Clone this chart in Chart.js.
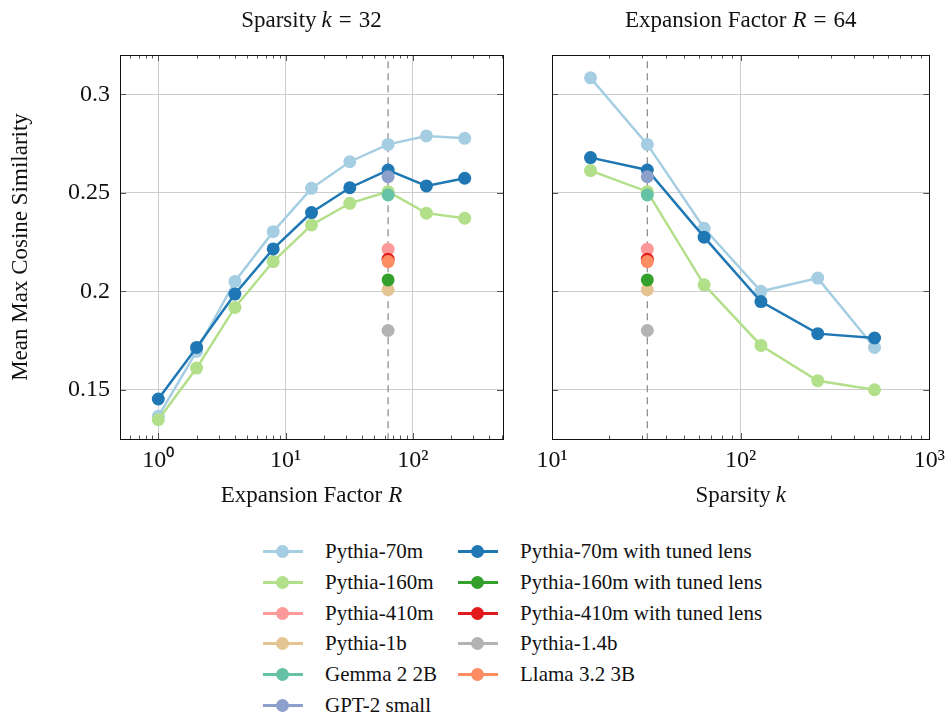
<!DOCTYPE html>
<html>
<head>
<meta charset="utf-8">
<script src="https://cdn.jsdelivr.net/npm/chart.js@4.4.1/dist/chart.umd.min.js"></script>
<style>
  body { margin: 0; background: #fff; }
  #wrap { position: relative; width: 952px; height: 715px; font-family: "Liberation Serif", serif; }
  #left { position: absolute; left: 0; top: 0; }
  #right { position: absolute; left: 520px; top: 0; }
  .entry { position: absolute; height: 24px; font-size: 21px; color: #111; white-space: nowrap; }
  .entry .ln { position: absolute; left: 0; top: 11px; width: 40px; height: 3px; }
  .entry .dot { position: absolute; left: 13px; top: 6px; width: 13px; height: 13px; border-radius: 50%; }
  .entry .lbl { position: absolute; left: 62px; top: 0; line-height: 24px; }
</style>
</head>
<body>
<div id="wrap">
  <canvas id="left" width="520" height="520"></canvas>
  <canvas id="right" width="432" height="520"></canvas>
  <div id="legend"></div>
</div>
<script>
// ---- data ----
const R_VALUES = [1, 2, 4, 8, 16, 32, 64, 128, 256];
const K_VALUES = [16, 32, 64, 128, 256, 512];

// left panel: sparsity k = 32, varying R
const P70M_BY_R = [0.1365, 0.1695, 0.205, 0.2303, 0.2523, 0.2658, 0.2746, 0.2789, 0.2777];
const P160M_BY_R = [0.1348, 0.161, 0.1918, 0.2151, 0.2337, 0.2447, 0.2506, 0.2397, 0.2371];
const P70M_TUNED_BY_R = [0.1453, 0.1715, 0.1986, 0.2215, 0.24, 0.2526, 0.2616, 0.2535, 0.2574];

// right panel: R = 64, varying k
const P70M_BY_K = [0.3084, 0.2746, 0.232, 0.2, 0.2067, 0.1715];
const P160M_BY_K = [0.2613, 0.2506, 0.2033, 0.1725, 0.1546, 0.15];
const P70M_TUNED_BY_K = [0.2679, 0.2616, 0.2275, 0.1948, 0.1785, 0.1763];

// models with a single run (R = 64, k = 32)
const SINGLE_MODELS = ["Pythia-410m", "Pythia-1b", "Gemma 2 2B", "GPT-2 small",
  "Pythia-160m with tuned lens", "Pythia-410m with tuned lens", "Pythia-1.4b", "Llama 3.2 3B"];
const SINGLE_VALUES = [0.2214, 0.2008, 0.2489, 0.2582, 0.2058, 0.2163, 0.1801, 0.2151];

const FIXED_R = 64;
const FIXED_K = 32;
const Y_TICKS = [0.15, 0.2, 0.25, 0.3];

const LEGEND_ORDER = ["Pythia-70m", "Pythia-160m", "Pythia-410m", "Pythia-1b", "Gemma 2 2B", "GPT-2 small",
  "Pythia-70m with tuned lens", "Pythia-160m with tuned lens", "Pythia-410m with tuned lens", "Pythia-1.4b", "Llama 3.2 3B"];

// ---- styles ----
const COLORS = {
  "Pythia-70m": "#a6cee3",
  "Pythia-70m with tuned lens": "#1f78b4",
  "Pythia-160m": "#b2df8a",
  "Pythia-160m with tuned lens": "#33a02c",
  "Pythia-410m": "#fb9a99",
  "Pythia-410m with tuned lens": "#e31a1c",
  "Pythia-1b": "#e5c494",
  "Pythia-1.4b": "#b3b3b3",
  "Gemma 2 2B": "#66c2a5",
  "GPT-2 small": "#8da0cb",
  "Llama 3.2 3B": "#fc8d62"
};
const FONT = "Liberation Serif";
const TEXT_SIZE = 23;

function isDecade(v) {
  const l = Math.log10(v);
  return Math.abs(l - Math.round(l)) < 1e-9;
}
const SUP = { "0": "\u2070", "1": "\u00b9", "2": "\u00b2", "3": "\u00b3" };

function lineSet(name, xs, ys, order) {
  return {
    label: name,
    data: xs.map((x, i) => ({ x: x, y: ys[i] })),
    borderColor: COLORS[name],
    backgroundColor: COLORS[name],
    borderWidth: 2.5,
    pointRadius: 6.5,
    pointHoverRadius: 6.5,
    pointBorderWidth: 0,
    order: order
  };
}

function buildDatasets(xs, s70, s160, s70t, fixedX) {
  const sets = [
    {
      label: "ref",
      data: [{ x: fixedX, y: 0.1 }, { x: fixedX, y: 0.35 }],
      borderColor: "#888",
      borderWidth: 1.2,
      borderDash: [7, 5],
      pointRadius: 0,
      order: 30
    },
    lineSet("Pythia-70m", xs, s70, 22),
    lineSet("Pythia-160m", xs, s160, 21),
    lineSet("Pythia-70m with tuned lens", xs, s70t, 20)
  ];
  SINGLE_MODELS.forEach((name, i) => {
    sets.push({
      label: name,
      data: [{ x: fixedX, y: SINGLE_VALUES[i] }],
      borderColor: COLORS[name],
      backgroundColor: COLORS[name],
      pointRadius: 6.5,
      pointHoverRadius: 6.5,
      pointBorderWidth: 0,
      showLine: false,
      order: 10 - i
    });
  });
  return sets;
}

// text pieces: [string, italic] or a number = extra gap in px
function drawMixed(ctx, parts, cx, cy, size) {
  const fontOf = p => (p[1] ? "italic " : "") + size + "px '" + FONT + "'";
  let total = 0;
  const widths = parts.map(p => {
    if (typeof p === "number") { total += p; return p; }
    ctx.font = fontOf(p);
    const w = ctx.measureText(p[0]).width;
    total += w;
    return w;
  });
  let x = cx - total / 2;
  ctx.textAlign = "left";
  ctx.textBaseline = "middle";
  ctx.fillStyle = "#111";
  parts.forEach((p, i) => {
    if (typeof p !== "number") {
      ctx.font = fontOf(p);
      ctx.fillText(p[0], x, cy);
    }
    x += widths[i];
  });
}

const decorPlugin = {
  id: "decor",
  afterDraw(chart) {
    const ctx = chart.ctx;
    const a = chart.chartArea;
    const xs = chart.scales.x;
    const ys = chart.scales.y;
    const o = chart.options.plugins.decor;
    ctx.save();
    // inward tick marks
    ctx.strokeStyle = "#555";
    ctx.lineWidth = 1;
    ctx.beginPath();
    const d0 = Math.floor(Math.log10(xs.min)), d1 = Math.ceil(Math.log10(xs.max));
    for (let d = d0; d <= d1; d++) {
      for (let m = 1; m <= 9; m++) {
        const v = m * Math.pow(10, d);
        if (v < xs.min || v > xs.max) continue;
        const px = Math.round(xs.getPixelForValue(v)) + 0.5;
        const len = m === 1 ? 6 : 3.5;
        ctx.moveTo(px, a.bottom); ctx.lineTo(px, a.bottom - len);
        ctx.moveTo(px, a.top); ctx.lineTo(px, a.top + len);
      }
    }
    Y_TICKS.forEach(v => {
      const py = Math.round(ys.getPixelForValue(v)) + 0.5;
      ctx.moveTo(a.left, py); ctx.lineTo(a.left + 6, py);
      ctx.moveTo(a.right, py); ctx.lineTo(a.right - 6, py);
    });
    ctx.stroke();
    // frame
    ctx.strokeStyle = "#111";
    ctx.lineWidth = 1;
    ctx.strokeRect(Math.round(a.left) + 0.5, Math.round(a.top) + 0.5,
      Math.round(a.right - a.left), Math.round(a.bottom - a.top));
    // texts
    const cx = (a.left + a.right) / 2;
    drawMixed(ctx, o.title, cx, 21, TEXT_SIZE);
    drawMixed(ctx, o.xTitle, cx, 496, TEXT_SIZE);
    if (o.yTitle) {
      ctx.translate(21, (a.top + a.bottom) / 2);
      ctx.rotate(-Math.PI / 2);
      drawMixed(ctx, [[o.yTitle, false]], 0, 0, TEXT_SIZE);
    }
    ctx.restore();
  }
};

function makeChart(canvasId, datasets, xMin, xMax, yAxisWidth, rightPad, showYLabels, decor) {
  return new Chart(document.getElementById(canvasId), {
    type: "line",
    data: { datasets: datasets },
    plugins: [decorPlugin],
    options: {
      responsive: false,
      animation: false,
      devicePixelRatio: 1,
      layout: { padding: { top: 55, right: rightPad, left: 0, bottom: 0 } },
      plugins: {
        legend: { display: false },
        tooltip: { enabled: false },
        decor: decor
      },
      scales: {
        x: {
          type: "logarithmic",
          min: xMin,
          max: xMax,
          afterFit(s) { s.height = 81; },
          border: { display: false },
          grid: {
            drawTicks: false,
            color: c => (c.tick && isDecade(c.tick.value)) ? "#cccccc" : "rgba(0,0,0,0)",
            lineWidth: 1
          },
          ticks: {
            autoSkip: false,
            maxRotation: 0,
            padding: 7,
            color: "#111",
            font: { family: FONT, size: 24 },
            callback: v => isDecade(v) ? "10" + SUP[String(Math.round(Math.log10(v)))] : ""
          }
        },
        y: {
          min: 0.125,
          max: 0.32,
          afterBuildTicks(s) { s.ticks = Y_TICKS.map(v => ({ value: v })); },
          afterFit(s) { s.width = yAxisWidth; },
          border: { display: false },
          grid: { drawTicks: false, color: "#cccccc", lineWidth: 1 },
          ticks: {
            display: showYLabels,
            padding: 10,
            color: "#111",
            font: { family: FONT, size: 24 },
            callback: v => String(v)
          }
        }
      }
    }
  });
}

makeChart("left", buildDatasets(R_VALUES, P70M_BY_R, P160M_BY_R, P70M_TUNED_BY_R, FIXED_R),
  0.5, 512, 120, 17, true,
  { title: [["Sparsity", false], 5, ["k", true], 7, ["=", false], 7, ["32", false]],
    xTitle: [["Expansion Factor", false], 6, ["R", true]],
    yTitle: "Mean Max Cosine Similarity" });

makeChart("right", buildDatasets(K_VALUES, P70M_BY_K, P160M_BY_K, P70M_TUNED_BY_K, FIXED_K),
  10, 1000, 32, 19, false,
  { title: [["Expansion Factor", false], 6, ["R", true], 7, ["=", false], 7, ["64", false]],
    xTitle: [["Sparsity", false], 5, ["k", true]],
    yTitle: null });

// ---- legend ----
const legend = document.getElementById("legend");
LEGEND_ORDER.forEach((name, i) => {
  const col = i < 6 ? 0 : 1;
  const row = i % 6;
  const el = document.createElement("div");
  el.className = "entry";
  el.style.left = (col === 0 ? 263 : 458) + "px";
  el.style.top = (551 + row * 30.8 - 12) + "px";
  el.innerHTML = '<span class="ln" style="background:' + COLORS[name] + '"></span>' +
    '<span class="dot" style="background:' + COLORS[name] + '"></span>' +
    '<span class="lbl">' + name + '</span>';
  legend.appendChild(el);
});
</script>
</body>
</html>
